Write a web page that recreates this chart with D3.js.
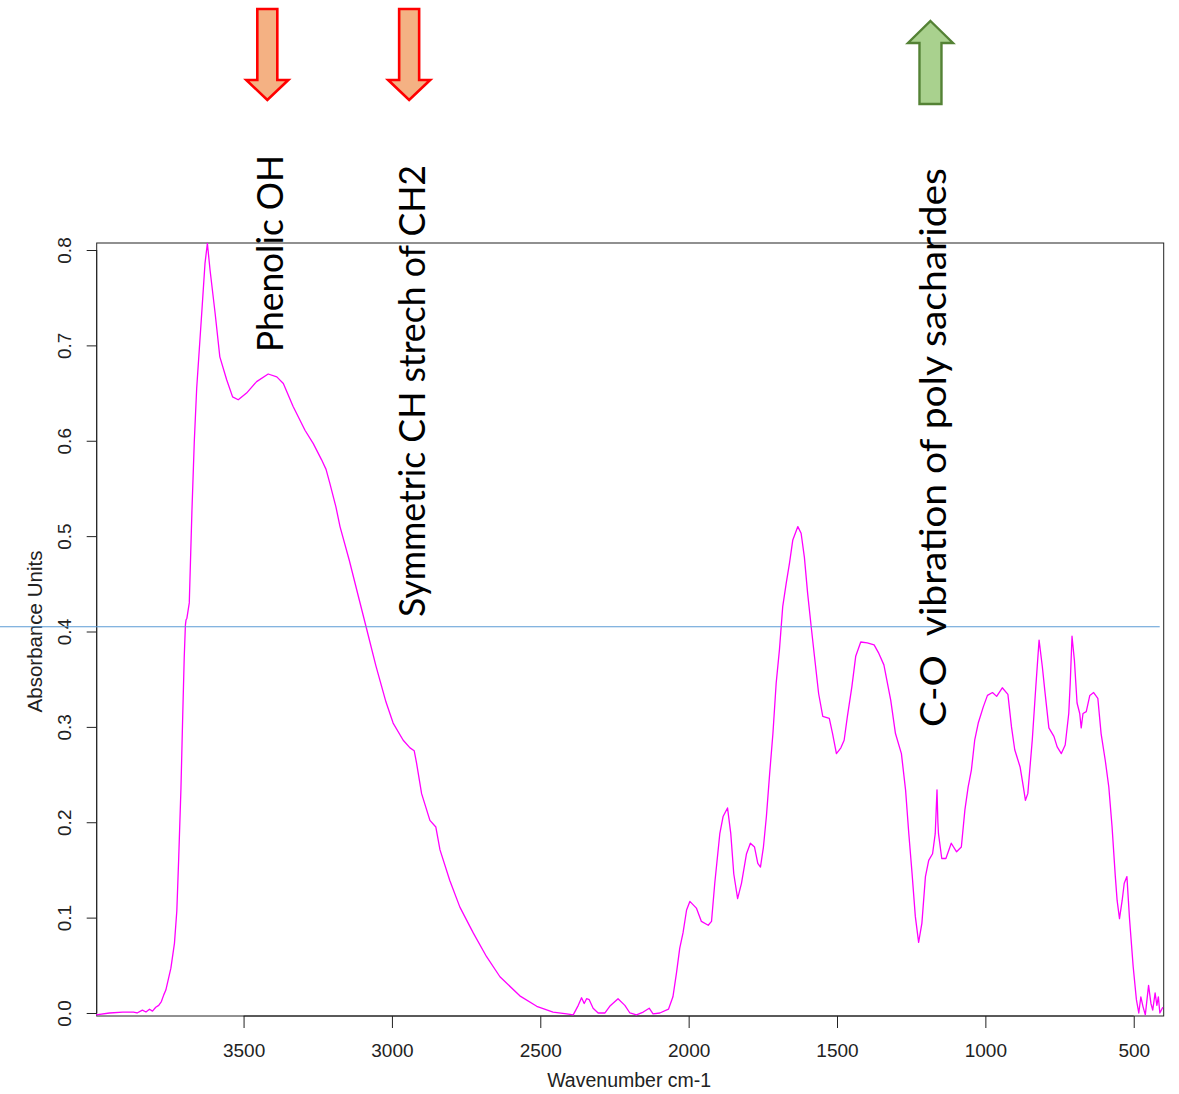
<!DOCTYPE html>
<html>
<head>
<meta charset="utf-8">
<script src="https://cdn.jsdelivr.net/npm/d3@7"></script>
<style>
  html, body { margin: 0; padding: 0; background: #fff; }
  svg { display: block; }
</style>
</head>
<body>
<svg id="chart" width="1179" height="1094"></svg>
<script>
// FTIR absorbance spectrum (wavenumber in cm-1, descending)
const wavenumbers = [
  3997, 3952, 3907, 3871, 3859, 3841, 3829, 3817, 3807, 3796, 3786, 3777, 3769, 3762,
  3745, 3733, 3725, 3719, 3711, 3705, 3700, 3696, 3694, 3691, 3683, 3674, 3666, 3658,
  3641, 3630, 3622, 3613, 3596, 3580, 3557, 3537, 3518, 3490, 3456, 3417, 3388, 3366,
  3333, 3293, 3265, 3237, 3222, 3209, 3189, 3175, 3144, 3110, 3088, 3054, 3020, 2996,
  2962, 2939, 2925, 2917, 2900, 2872, 2852, 2838, 2805, 2771, 2726, 2681, 2636, 2569,
  2512, 2457, 2411, 2389, 2372, 2361, 2352, 2344, 2335, 2322, 2305, 2282, 2266, 2238,
  2215, 2198, 2176, 2153, 2133, 2120, 2097, 2068, 2053, 2041, 2030, 2019, 2007, 1996,
  1974, 1957, 1934, 1923, 1912, 1895, 1884, 1869, 1858, 1848, 1835, 1822, 1805, 1792,
  1778, 1767, 1758, 1748, 1738, 1727, 1716, 1705, 1694, 1683, 1671, 1660, 1649, 1632,
  1621, 1610, 1599, 1587, 1576, 1562, 1548, 1526, 1515, 1502, 1487, 1476, 1465, 1450,
  1437, 1420, 1398, 1375, 1359, 1342, 1319, 1303, 1283, 1269, 1258, 1247, 1236, 1225,
  1214, 1202, 1191, 1178, 1169, 1163, 1160, 1158, 1147, 1133, 1115, 1097, 1081, 1069,
  1058, 1047, 1036, 1024, 1007, 993, 976, 962, 943, 924, 912, 901, 883, 872,
  865, 857, 842, 830, 819, 808, 800, 786, 769, 758, 744, 731, 719, 714,
  708, 700, 691, 682, 677, 671, 660, 648, 635, 621, 610, 596, 584, 573,
  562, 556, 548, 539, 532, 523, 514, 502, 491, 483, 476, 469, 461, 450,
  442, 436, 428, 422, 417, 412, 402
];
const absorbance = [
  -0.002, 0.000, 0.001, 0.001, 0.000, 0.003, 0.001, 0.004, 0.002, 0.006, 0.008, 0.012, 0.019, 0.024,
  0.047, 0.073, 0.107, 0.159, 0.236, 0.313, 0.373, 0.407, 0.412, 0.414, 0.430, 0.527, 0.600, 0.655,
  0.734, 0.786, 0.807, 0.779, 0.734, 0.688, 0.664, 0.646, 0.643, 0.650, 0.662, 0.670, 0.667, 0.660,
  0.636, 0.611, 0.597, 0.580, 0.570, 0.555, 0.531, 0.510, 0.475, 0.433, 0.406, 0.364, 0.326, 0.304,
  0.286, 0.278, 0.275, 0.262, 0.230, 0.202, 0.195, 0.171, 0.139, 0.111, 0.084, 0.059, 0.038, 0.018,
  0.007, 0.001, -0.001, -0.002, 0.008, 0.016, 0.010, 0.015, 0.014, 0.005, 0.000, 0.000, 0.007, 0.015,
  0.008, 0.000, -0.002, 0.001, 0.005, -0.001, 0.000, 0.004, 0.017, 0.042, 0.068, 0.084, 0.108, 0.117,
  0.110, 0.096, 0.092, 0.096, 0.136, 0.188, 0.206, 0.215, 0.188, 0.146, 0.120, 0.136, 0.167, 0.178,
  0.174, 0.157, 0.153, 0.174, 0.206, 0.251, 0.293, 0.346, 0.381, 0.426, 0.451, 0.472, 0.496, 0.510,
  0.503, 0.478, 0.440, 0.405, 0.374, 0.335, 0.311, 0.309, 0.293, 0.272, 0.278, 0.286, 0.311, 0.342,
  0.374, 0.389, 0.388, 0.386, 0.377, 0.365, 0.328, 0.293, 0.272, 0.234, 0.188, 0.146, 0.101, 0.074,
  0.094, 0.143, 0.160, 0.167, 0.188, 0.234, 0.200, 0.188, 0.162, 0.162, 0.178, 0.169, 0.174, 0.213,
  0.237, 0.255, 0.286, 0.304, 0.321, 0.333, 0.336, 0.332, 0.341, 0.334, 0.300, 0.276, 0.258, 0.237,
  0.223, 0.230, 0.286, 0.342, 0.391, 0.363, 0.339, 0.299, 0.290, 0.279, 0.272, 0.281, 0.314, 0.346,
  0.395, 0.370, 0.325, 0.314, 0.299, 0.314, 0.316, 0.333, 0.336, 0.330, 0.293, 0.265, 0.237, 0.195,
  0.143, 0.118, 0.099, 0.118, 0.136, 0.143, 0.098, 0.049, 0.014, 0.000, 0.017, 0.007, -0.002, 0.029,
  0.010, 0.003, 0.021, 0.008, 0.017, 0.000, 0.006
];

const xTicks = [3500, 3000, 2500, 2000, 1500, 1000, 500];
const yTicks = [0.0, 0.1, 0.2, 0.3, 0.4, 0.5, 0.6, 0.7, 0.8];

// Band assignments marked above the plot
const bandLabels = ["Phenolic OH", "Symmetric CH strech of CH2", "C-O  vibration of poly sacharides"];
const bandWavenumbers = [3420, 2942, 1185];
const bandDirections = ["down", "down", "up"];
const bandLabelLengths = [197, 452, 559];

// Horizontal reference level
const referenceLevel = 0.405;

const svg = d3.select("#chart");
const plot = { left: 96.7, right: 1163.7, top: 243, bottom: 1016 };

const x = d3.scaleLinear().domain([3995, 399]).range([plot.left, plot.right]);
const y = d3.scaleLinear().domain([-0.00315, 0.80735]).range([plot.bottom, plot.top]);

const axisColor = "#222";
const axisFont = "'Liberation Sans', Arial, sans-serif";

// Plot frame
svg.append("rect")
  .attr("x", plot.left).attr("y", plot.top)
  .attr("width", plot.right - plot.left).attr("height", plot.bottom - plot.top)
  .attr("fill", "none").attr("stroke", axisColor).attr("stroke-width", 1);

// Bottom axis
const xAxis = d3.axisBottom(x).tickValues(xTicks).tickSize(12).tickPadding(6).tickFormat(d3.format("d"));
const gx = svg.append("g").attr("transform", `translate(0,${plot.bottom})`).call(xAxis);
gx.select(".domain").attr("d", `M${x(xTicks[0])},0H${x(xTicks[xTicks.length - 1])}`).attr("stroke", axisColor);
gx.selectAll(".tick line").attr("stroke", axisColor);
gx.selectAll(".tick text")
  .attr("font-family", axisFont).attr("font-size", 19).attr("fill", axisColor)
  .attr("dy", null).attr("y", 41);

// Left axis, labels parallel to the axis
const yAxis = d3.axisLeft(y).tickValues(yTicks).tickSize(10).tickFormat(d3.format(".1f"));
const gy = svg.append("g").attr("transform", `translate(${plot.left},0)`).call(yAxis);
gy.select(".domain").attr("d", `M0,${y(yTicks[0])}V${y(yTicks[yTicks.length - 1])}`).attr("stroke", axisColor);
gy.selectAll(".tick line").attr("stroke", axisColor);
gy.selectAll(".tick text")
  .attr("font-family", axisFont).attr("font-size", 19).attr("fill", axisColor)
  .attr("x", null).attr("dy", null)
  .attr("text-anchor", "middle")
  .attr("transform", "translate(-26,0) rotate(-90)");

// Axis titles
svg.append("text")
  .attr("x", (plot.left + plot.right) / 2 - 1).attr("y", 1087)
  .attr("text-anchor", "middle")
  .attr("font-family", axisFont).attr("font-size", 19.5).attr("fill", axisColor)
  .text("Wavenumber cm-1");

svg.append("text")
  .attr("transform", `translate(41.5,${(y(0) + y(0.8)) / 2 + 0}) rotate(-90)`)
  .attr("text-anchor", "middle")
  .attr("font-family", axisFont).attr("font-size", 20.5).attr("fill", axisColor)
  .text("Absorbance Units");

// Spectrum
const points = wavenumbers.map((w, i) => [w, absorbance[i]]);
svg.append("path")
  .datum(points)
  .attr("fill", "none")
  .attr("stroke", "#ff00ff")
  .attr("stroke-width", 1.3)
  .attr("stroke-linejoin", "round")
  .attr("d", d3.line().x(d => x(d[0])).y(d => y(d[1])));

// Reference level line
svg.append("line")
  .attr("x1", 0).attr("x2", plot.right - 4)
  .attr("y1", y(referenceLevel)).attr("y2", y(referenceLevel))
  .attr("stroke", "#5b9bd5").attr("stroke-width", 1.2);

// Block arrows for band markers
function blockArrow(cx, dir) {
  if (dir === "down") {
    const top = 9, shaftEnd = 80, tip = 100, sw = 10, hw = 21;
    return `M${cx - sw},${top}H${cx + sw}V${shaftEnd}H${cx + hw}L${cx},${tip}L${cx - hw},${shaftEnd}H${cx - sw}Z`;
  }
  const tip = 21, headBase = 43, bottom = 104, sw = 11, hw = 22.5;
  return `M${cx},${tip}L${cx + hw},${headBase}H${cx + sw}V${bottom}H${cx - sw}V${headBase}H${cx - hw}Z`;
}

const bands = svg.append("g").attr("class", "bands");
bandWavenumbers.forEach((w, i) => {
  const cx = x(w);
  const down = bandDirections[i] === "down";
  bands.append("path")
    .attr("d", blockArrow(cx, bandDirections[i]))
    .attr("fill", down ? "#f4b183" : "#a9d18e")
    .attr("stroke", down ? "#ff0000" : "#548235")
    .attr("stroke-width", down ? 2.6 : 2.4)
    .attr("stroke-linejoin", "miter");
});

const labelStart = [352, 617, 727];
bandLabels.forEach((t, i) => {
  const bx = x(bandWavenumbers[i]) + 15.5;
  bands.append("text")
    .attr("transform", `translate(${bx},${labelStart[i]}) rotate(-90)`)
    .attr("font-family", "Lato, 'Open Sans', sans-serif")
    .attr("font-size", 37.5)
    .attr("fill", "#000")
    .attr("textLength", bandLabelLengths[i])
    .attr("lengthAdjust", "spacingAndGlyphs")
    .attr("xml:space", "preserve")
    .style("white-space", "pre")
    .text(t);
});
</script>
</body>
</html>
